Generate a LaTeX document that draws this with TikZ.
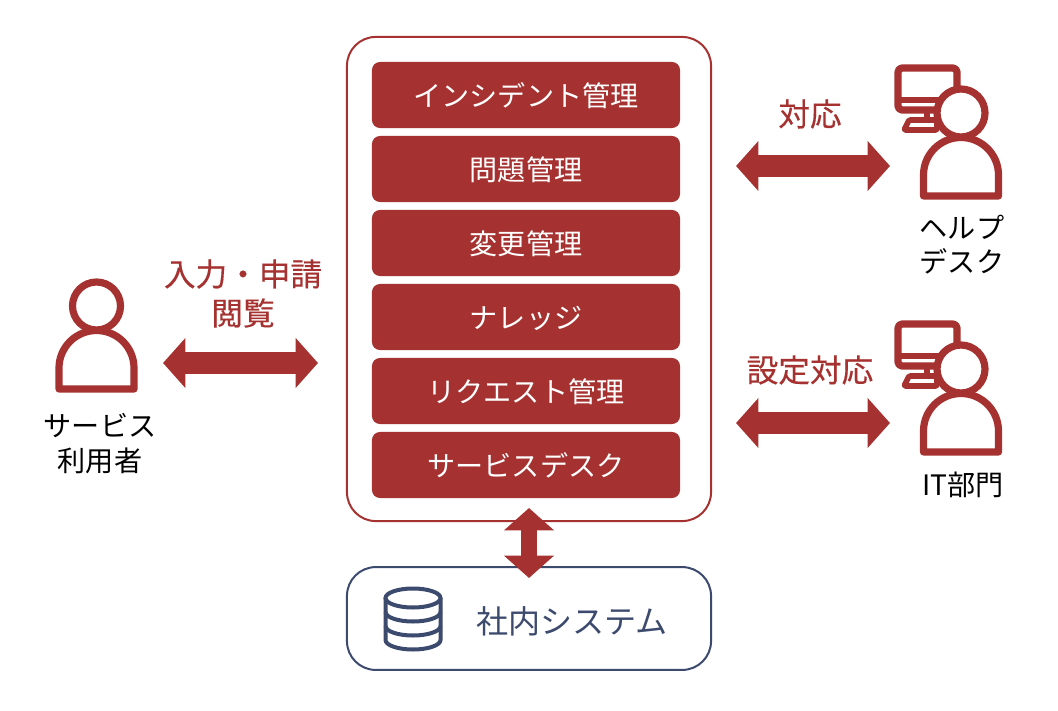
\documentclass[tikz,border=0pt]{standalone}
\usepackage{fontspec}
\setmainfont{Noto Sans CJK JP}
\newfontfamily\heavyfont[FakeBold=0.35]{Noto Sans CJK JP}
\usetikzlibrary{arrows.meta}
\definecolor{brickred}{HTML}{A53230}
\definecolor{slatenavy}{HTML}{3C4A6E}
\tikzset{
  barbox/.style={fill=brickred,rounded corners=0.2cm,minimum width=7.7cm,minimum height=1.65cm,inner sep=0pt,text=white,text height=20pt,text depth=3pt,font=\fontsize{20}{24}\selectfont},
  redlabel/.style={text=brickred,inner sep=0pt,font=\heavyfont\fontsize{22.5}{26}\selectfont},
  darklabel/.style={text=black,inner sep=0pt,font=\fontsize{20}{24}\selectfont},
  bigarrow/.style={draw=brickred,line width=0.55cm,{Triangle[length=0.56cm,width=1.22cm]}-{Triangle[length=0.56cm,width=1.22cm]}},
  smallarrow/.style={draw=brickred,line width=0.42cm,{Triangle[length=0.56cm,width=1.22cm]}-{Triangle[length=0.56cm,width=1.22cm]}},
  iconline/.style={draw=brickred,line width=0.18cm,line join=round,fill=white},
  person/.pic={
    \draw[iconline] (-37.5,83) -- (-37.5,62) arc (180:360:37.5) -- (37.5,83) -- cycle;
    \draw[iconline] (0,0) circle (24);
  },
  agent/.pic={
    \draw[iconline,rounded corners=0.1cm] (-63,-45) rectangle (-4,-3);
    \draw[iconline,line width=0.13cm] (-63,-13) -- (-4,-13);
    \draw[iconline,line width=0.13cm] (-34,-3) -- (-34,7);
    \draw[iconline,line width=0.14cm,rounded corners=0.03cm] (-52,7) -- (-24,7) -- (-24,17) -- (-57,17) -- cycle;
    \pic at (0,0) {person};
  }
}
\begin{document}
\begin{tikzpicture}[x=0.025cm,y=-0.025cm]
\useasboundingbox (0,0) rectangle (1058,710);

\node[draw=brickred,line width=0.05cm,rounded corners=0.72cm,minimum width=9.1cm,minimum height=12.1cm] (suite) at (529,279) {};
\node[barbox] (incident) at (526,95) {インシデント管理};
\node[barbox] (problem) at (526,169) {問題管理};
\node[barbox] (change) at (526,243) {変更管理};
\node[barbox] (knowledge) at (526,317) {ナレッジ};
\node[barbox] (request) at (526,391) {リクエスト管理};
\node[barbox] (desk) at (526,465) {サービスデスク};

\node[draw=slatenavy,line width=0.05cm,rounded corners=0.72cm,minimum width=9.1cm,minimum height=2.57cm] (internal) at (529,618.5) {};
\node[text=slatenavy,inner sep=0pt,font=\fontsize{22.8}{26}\selectfont] (internaltext) at (572,621) {社内システム};

% database icon
\draw[slatenavy,line width=0.1cm] (385.5,598) -- (385.5,640) arc (180:0:27.5 and 9.5) -- (440.5,598);
\draw[slatenavy,line width=0.1cm] (413,598) ellipse (27.5 and 9.5);
\draw[slatenavy,line width=0.1cm] (385.5,612) arc (180:0:27.5 and 9.5);
\draw[slatenavy,line width=0.1cm] (385.5,626) arc (180:0:27.5 and 9.5);

\pic at (96.5,306) {person};
\pic at (961,113) {agent};
\pic at (961,369) {agent};

\node[darklabel] (usera) at (100,426) {サービス};
\node[darklabel] (userb) at (100,461) {利用者};
\node[darklabel] (helpa) at (962,227) {ヘルプ};
\node[darklabel] (helpb) at (962,261) {デスク};
\node[darklabel] (itdept) at (963,485) {IT部門};

\node[redlabel] (inputlabel) at (243,274) {入力・申請};
\node[redlabel] (viewlabel) at (243,313) {閲覧};
\node[redlabel] (replylabel) at (810,114) {対応};
\node[redlabel] (setuplabel) at (810,370) {設定対応};

\coordinate (userend) at (163,363);
\coordinate (suiteleft) at (318,363);
\coordinate (suitetop) at (736,166);
\coordinate (helpend) at (890,166);
\coordinate (suitemid) at (736,423);
\coordinate (itend) at (890,423);
\coordinate (suitebottom) at (529,508);
\coordinate (internaltop) at (529,578);

\draw[bigarrow] (userend) -- (suiteleft);
\draw[bigarrow] (suitetop) -- (helpend);
\draw[bigarrow] (suitemid) -- (itend);
\draw[smallarrow] (suitebottom) -- (internaltop);
\end{tikzpicture}
\end{document}
